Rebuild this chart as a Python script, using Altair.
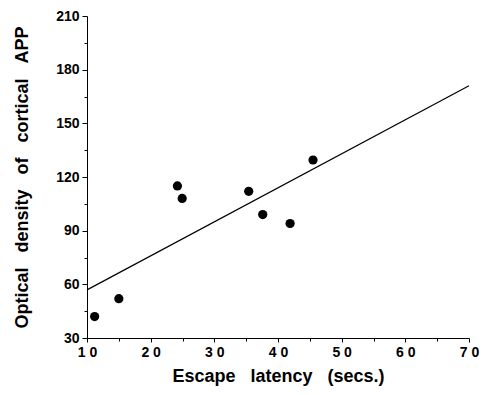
import altair as alt
import pandas as pd

latency = [11.2, 15.0, 24.2, 24.95, 35.4, 37.6, 41.9, 45.5]
density = [42, 52, 115, 108, 112, 99, 94, 129.5]

x_major = [10, 20, 30, 40, 50, 60, 70]
x_minor = [15, 25, 35, 45, 55, 65]
y_major = [30, 60, 90, 120, 150, 180, 210]
y_minor = [45, 75, 105, 135, 165, 195]

SP = "\u00a0\u00a0\u00a0"
x_title = SP.join(["Escape", "latency", "(secs.)"])
y_title = SP.join(["Optical", "density", "of", "cortical", "APP"])

df = pd.DataFrame({"latency": latency, "density": density})

FONT = "Liberation Sans"
xscale = alt.Scale(domain=[10, 70], nice=False, zero=False)
yscale = alt.Scale(domain=[30, 210], nice=False, zero=False)

base = alt.Chart(df)

points = base.mark_circle(size=85, color="black", opacity=1).encode(
    x=alt.X("latency:Q", scale=xscale,
            axis=alt.Axis(values=x_major, orient="bottom", title=x_title,
                          labelExpr="floor(datum.value/10) + ' ' + (datum.value % 10)",
                          labelFont=FONT, labelFontWeight="bold", labelFontSize=14,
                          labelColor="black", labelPadding=3, tickSize=4,
                          labelFlush=False, labelOverlap=False,
                          tickColor="black", domainColor="black", grid=False,
                          titleFont=FONT, titleFontWeight="bold", titleFontSize=18,
                          titleColor="black", titlePadding=8)),
    y=alt.Y("density:Q", scale=yscale,
            axis=alt.Axis(values=y_major, orient="left", title=y_title,
                          labelFont=FONT, labelFontWeight="bold", labelFontSize=14,
                          labelColor="black", labelPadding=3, tickSize=5,
                          labelFlush=False, labelOverlap=False,
                          tickColor="black", domainColor="black", grid=False,
                          titleFont=FONT, titleFontWeight="bold", titleFontSize=18,
                          titleColor="black", titlePadding=24)),
)

line = base.transform_regression("latency", "density", extent=[10, 70]).mark_line(
    color="black", strokeWidth=1.2
).encode(
    x=alt.X("latency:Q", scale=xscale,
            axis=alt.Axis(values=x_minor, orient="bottom", labels=False, title=None,
                          tickSize=3, tickColor="black", domain=False, grid=False)),
    y=alt.Y("density:Q", scale=yscale,
            axis=alt.Axis(values=y_minor, orient="left", labels=False, title=None,
                          tickSize=3, tickColor="black", domain=False, grid=False)),
)

chart = (
    alt.layer(points, line)
    .resolve_axis(x="independent", y="independent")
    .properties(width=382, height=322,
                autosize=alt.AutoSizeParams(type="none"),
                padding={"left": 79, "top": 8, "right": 13, "bottom": 49})
    .configure_view(stroke=None)
    .configure_axis(domainWidth=1, tickWidth=1)
)

chart.save("out.html", embed_options={"renderer": "svg", "actions": False})
